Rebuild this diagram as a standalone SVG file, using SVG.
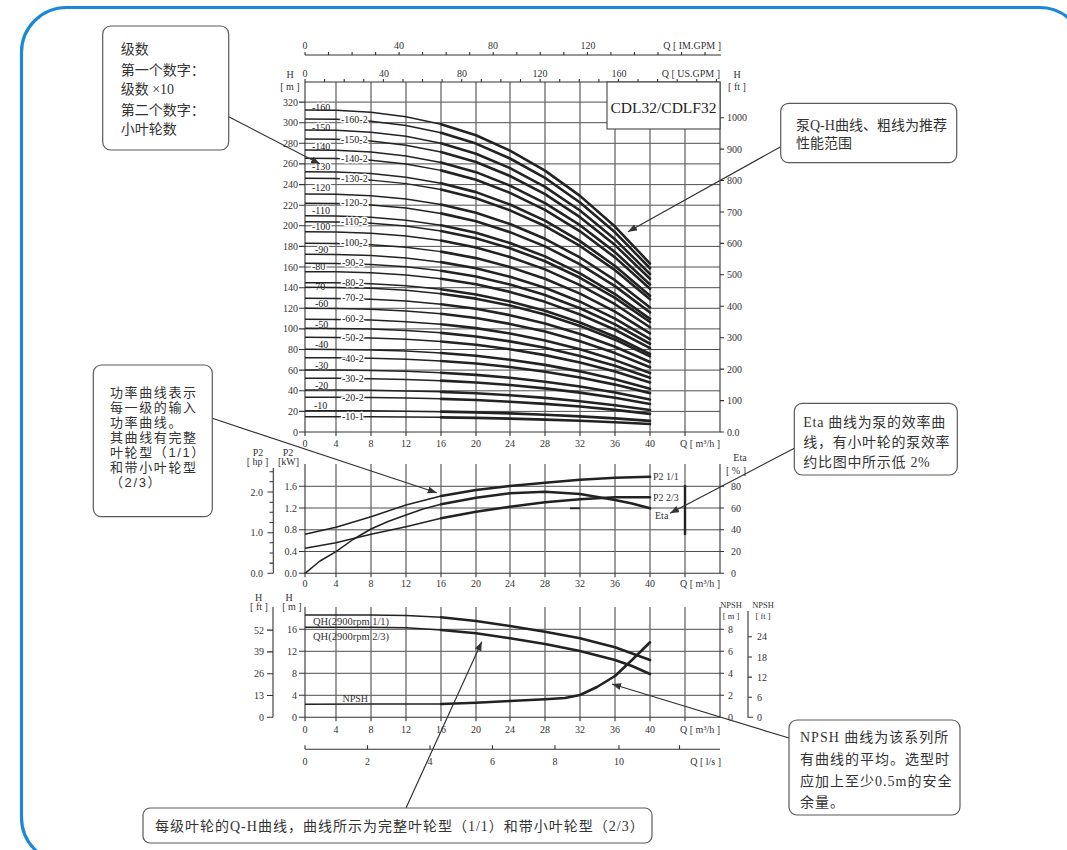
<svg xmlns="http://www.w3.org/2000/svg" xmlns:xlink="http://www.w3.org/1999/xlink" width="1067" height="850" viewBox="0 0 1067 850">
<style>
.t{font-family:"Liberation Serif","Times New Roman",serif;font-size:10px;fill:#333}
.n{font-size:8.5px}
.e{text-anchor:end}
.m{text-anchor:middle}
.gv{stroke:#6a6a6a;stroke-width:1.3;fill:none}
.gh{stroke:#3a3a3a;stroke-width:0.9;fill:none}
.ax{stroke:#333;stroke-width:1.1;fill:none}
.c1{fill:none;stroke:#222;stroke-width:1.5;stroke-linejoin:round}
.c2{fill:none;stroke:#222;stroke-width:2.6;stroke-linejoin:round;stroke-linecap:round}
.st{font-family:"Liberation Serif","Times New Roman",serif;font-size:10px;fill:#222;stroke:#fff;stroke-width:3;paint-order:stroke;stroke-linejoin:round}
.box{fill:#fff;stroke:#5a5a5a;stroke-width:1.2}
.cn{font-family:"Liberation Serif","Noto Sans CJK SC",sans-serif;font-size:14px;fill:#333}
.cs{font-family:"Liberation Sans","Noto Sans CJK SC",sans-serif;font-size:13px;fill:#333;letter-spacing:1.6px}
.conn{fill:none;stroke:#333;stroke-width:1.2;marker-end:url(#ah)}
</style>
<defs>
<marker id="ah" markerUnits="userSpaceOnUse" markerWidth="10" markerHeight="8" refX="9" refY="3.5" orient="auto">
<path d="M0,0 L9,3.5 L0,7 Z" fill="#333"/>
</marker>
<g id="qh">
<path class="c1" vector-effect="non-scaling-stroke" d="M0,-1 L31,-0.999 L66,-0.9928 L101,-0.979 L136,-0.9559"/>
<path class="c2" vector-effect="non-scaling-stroke" d="M136,-0.9559 L171,-0.9215 L205,-0.8738 L240,-0.8118 L275,-0.7333 L310,-0.6379 L345,-0.5231"/>
</g>
</defs>
<rect width="1067" height="850" fill="#fff"/>
<g id="outer-frame">
<rect x="21.5" y="7.5" width="1063" height="855" rx="45" ry="45" fill="none" stroke="#1a88d6" stroke-width="3.2"/>
</g>

<g id="chart-qh">
<path class="gh" d="M305,411.4H720M305,390.8H720M305,370.1H720M305,349.5H720M305,328.9H720M305,308.3H720M305,287.7H720M305,267H720M305,246.4H720M305,225.8H720M305,205.2H720M305,184.6H720M305,163.9H720M305,143.3H720M305,122.7H720M305,102.1H720"/>
<path class="gv" d="M336,82V432M371,82V432M406,82V432M441,82V432M476,82V432M510,82V432M545,82V432M580,82V432M615,82V432M650,82V432M685,82V432"/>
<path class="ax" d="M305,82V432H720V82H305"/>
<path class="ax" d="M305,55H721"/>
<path class="ax" d="M299,432h6M299,411.4h6M299,390.8h6M299,370.1h6M299,349.5h6M299,328.9h6M299,308.3h6M299,287.7h6M299,267h6M299,246.4h6M299,225.8h6M299,205.2h6M299,184.6h6M299,163.9h6M299,143.3h6M299,122.7h6M299,102.1h6"/>
<path class="ax" d="M720,432h4M720,400.6h4M720,369.1h4M720,337.7h4M720,306.3h4M720,274.8h4M720,243.4h4M720,212h4M720,180.5h4M720,149.1h4M720,117.7h4"/>
<path class="ax" d="M305,432v4M336,432v4M371,432v4M406,432v4M441,432v4M476,432v4M510,432v4M545,432v4M580,432v4M615,432v4M650,432v4M685,432v4"/>
<path class="ax" d="M305,82v-3M324.6,82v-3M344.2,82v-3M363.8,82v-3M383.4,82v-3M403,82v-3M422.5,82v-3M442.1,82v-3M461.7,82v-3M481.3,82v-3M500.9,82v-3M520.5,82v-3M540.1,82v-3M559.7,82v-3M579.3,82v-3M598.9,82v-3M618.4,82v-3M638,82v-3M657.6,82v-3M677.2,82v-3M696.8,82v-3M716.4,82v-3"/>
<path class="ax" d="M305,55v-3M328.5,55v-3M352.1,55v-3M375.6,55v-3M399.1,55v-3M422.6,55v-3M446.2,55v-3M469.7,55v-3M493.2,55v-3M516.8,55v-3M540.3,55v-3M563.8,55v-3M587.4,55v-3M610.9,55v-3M634.4,55v-3M658,55v-3M681.5,55v-3M705,55v-3"/>
<g class="t m">
<text x="305" y="49">0</text><text x="399" y="49">40</text><text x="493" y="49">80</text><text x="588" y="49">120</text>
<text x="305" y="77">0</text><text x="384" y="77">40</text><text x="462" y="77">80</text><text x="540" y="77">120</text><text x="619" y="77">160</text>
<text x="305" y="447">0</text><text x="336" y="447">4</text><text x="371" y="447">8</text><text x="406" y="447">12</text><text x="441" y="447">16</text><text x="476" y="447">20</text><text x="510" y="447">24</text><text x="545" y="447">28</text><text x="580" y="447">32</text><text x="615" y="447">36</text><text x="650" y="447">40</text>
<text x="290" y="78">H</text><text x="290" y="90">[ m ]</text>
<text x="737" y="78">H</text><text x="737" y="90">[ ft ]</text>
</g>
<g class="t e">
<text x="721" y="49">Q [ IM.GPM ]</text>
<text x="720" y="77">Q [ US.GPM ]</text>
<text x="720" y="447">Q [ m³/h ]</text>
<text x="298" y="435.5">0</text><text x="298" y="414.9">20</text><text x="298" y="394.3">40</text><text x="298" y="373.6">60</text><text x="298" y="353">80</text><text x="298" y="332.4">100</text><text x="298" y="311.8">120</text><text x="298" y="291.2">140</text><text x="298" y="270.5">160</text><text x="298" y="249.9">180</text><text x="298" y="229.3">200</text><text x="298" y="208.7">220</text><text x="298" y="188.1">240</text><text x="298" y="167.4">260</text><text x="298" y="146.8">280</text><text x="298" y="126.2">300</text><text x="298" y="105.6">320</text>
</g>
<g class="t">
<text x="727" y="435.5">0.0</text><text x="727" y="404.1">100</text><text x="727" y="372.6">200</text><text x="727" y="341.2">300</text><text x="727" y="309.8">400</text><text x="727" y="278.3">500</text><text x="727" y="246.9">600</text><text x="727" y="215.5">700</text><text x="727" y="184">800</text><text x="727" y="152.6">900</text><text x="727" y="121.2">1000</text>
</g>
<g class="st">
<text x="312" y="110.7">-160</text><text x="312" y="131.3">-150</text><text x="312" y="149.7">-140</text><text x="312" y="169.7">-130</text><text x="312" y="191.3">-120</text><text x="312" y="214">-110</text><text x="312" y="230.3">-100</text><text x="315" y="253.3">-90</text><text x="312" y="270.3">-80</text><text x="312" y="290.3">-70</text><text x="315" y="307">-60</text><text x="315" y="328">-50</text><text x="315" y="348">-40</text><text x="315" y="369">-30</text><text x="315" y="389">-20</text><text x="314" y="409">-10</text>
</g>
<g transform="translate(305,432)">
<use xlink:href="#qh" transform="scale(1,21.3)"/>
<use xlink:href="#qh" transform="scale(1,15.3)"/>
<use xlink:href="#qh" transform="scale(1,42)"/>
<use xlink:href="#qh" transform="scale(1,34.7)"/>
<use xlink:href="#qh" transform="scale(1,62)"/>
<use xlink:href="#qh" transform="scale(1,53.7)"/>
<use xlink:href="#qh" transform="scale(1,82.7)"/>
<use xlink:href="#qh" transform="scale(1,74.3)"/>
<use xlink:href="#qh" transform="scale(1,103.7)"/>
<use xlink:href="#qh" transform="scale(1,94.7)"/>
<use xlink:href="#qh" transform="scale(1,123.7)"/>
<use xlink:href="#qh" transform="scale(1,112.7)"/>
<use xlink:href="#qh" transform="scale(1,144.7)"/>
<use xlink:href="#qh" transform="scale(1,133.7)"/>
<use xlink:href="#qh" transform="scale(1,160.3)"/>
<use xlink:href="#qh" transform="scale(1,149.3)"/>
<use xlink:href="#qh" transform="scale(1,177.7)"/>
<use xlink:href="#qh" transform="scale(1,168.7)"/>
<use xlink:href="#qh" transform="scale(1,200.3)"/>
<use xlink:href="#qh" transform="scale(1,188.7)"/>
<use xlink:href="#qh" transform="scale(1,216.3)"/>
<use xlink:href="#qh" transform="scale(1,210.3)"/>
<use xlink:href="#qh" transform="scale(1,238)"/>
<use xlink:href="#qh" transform="scale(1,228.7)"/>
<use xlink:href="#qh" transform="scale(1,260.3)"/>
<use xlink:href="#qh" transform="scale(1,253.7)"/>
<use xlink:href="#qh" transform="scale(1,282)"/>
<use xlink:href="#qh" transform="scale(1,273.7)"/>
<use xlink:href="#qh" transform="scale(1,302)"/>
<use xlink:href="#qh" transform="scale(1,293)"/>
<use xlink:href="#qh" transform="scale(1,322)"/>
<use xlink:href="#qh" transform="scale(1,313)"/>
</g>
<g class="st">
<text x="341" y="122.5">-160-2</text><text x="341" y="142.5">-150-2</text><text x="341" y="161.8">-140-2</text><text x="341" y="181.8">-130-2</text><text x="341" y="205.5">-120-2</text><text x="341" y="225.2">-110-2</text><text x="341" y="245.5">-100-2</text><text x="342" y="265.5">-90-2</text><text x="342" y="286.2">-80-2</text><text x="342" y="300.5">-70-2</text><text x="342" y="321.5">-60-2</text><text x="342" y="341">-50-2</text><text x="342" y="361.5">-40-2</text><text x="342" y="381.8">-30-2</text><text x="342" y="400.8">-20-2</text><text x="342" y="420.2">-10-1</text>
</g>
<rect x="607" y="82" width="113" height="47" fill="#fff" stroke="#444" stroke-width="1.1"/>
<text x="663.5" y="113" text-anchor="middle" font-family="Liberation Serif, serif" font-size="15.5" fill="#222">CDL32/CDLF32</text>
</g>

<g id="chart-p2">
<path class="gh" d="M305,551.5H720M305,529.8H720M305,508H720M305,486.3H720"/>
<path class="gv" d="M336,464V573.3M371,464V573.3M406,464V573.3M441,464V573.3M476,464V573.3M510,464V573.3M545,464V573.3M580,464V573.3M615,464V573.3M650,464V573.3M685,464V573.3"/>
<path class="ax" d="M305,464V573.3H720V464"/>
<path class="ax" d="M299,573.3h6M299,551.5h6M299,529.8h6M299,508h6M299,486.3h6M720,573.3h4M720,551.5h4M720,529.8h4M720,508h4M720,486.3h4"/>
<path class="ax" d="M305,573.3v4M336,573.3v4M371,573.3v4M406,573.3v4M441,573.3v4M476,573.3v4M510,573.3v4M545,573.3v4M580,573.3v4M615,573.3v4M650,573.3v4M685,573.3v4"/>
<path class="ax" d="M273.3,468V573.3M267.5,573.3h5.8M269.5,563.1h3.8M269.5,553h3.8M269.5,542.8h3.8M267.5,532.7h5.8M269.5,522.5h3.8M269.5,512.3h3.8M269.5,502.2h3.8M267.5,492h5.8M269.5,481.8h3.8M269.5,471.7h3.8"/>
<path d="M685,485V535" stroke="#222" stroke-width="2.4"/>
<path d="M570,508.3H580" stroke="#222" stroke-width="1.8"/>
<path class="c1" d="M305,534.3L336,527.3L371,516.7L406,505L441,496"/>
<path class="c2" d="M441,496L476,490L510,486L545,482.7L580,479.7L615,477.7L650,476.7"/>
<path class="c1" d="M305,548.3L336,542.7L371,534.3L406,526.7L441,518.3"/>
<path class="c2" d="M441,518.3L476,511.7L510,506.7L545,502.3L580,499.3L615,497.3L650,497.3"/>
<path class="c1" d="M305,573.3L320,561L336,551.7L353,539.5L371,529L388,521.5L406,515L423,509L441,504.3"/>
<path class="c2" d="M441,504.3L476,497.7L510,493.3L545,491.7L580,494L615,500L632,503.5L650,508.3"/>
<g class="t">
<text x="653" y="480">P2  1/1</text><text x="653" y="500.5">P2  2/3</text><text x="655" y="518.5">Eta</text>
<text x="731" y="577">0</text><text x="731" y="555">20</text><text x="731" y="533.3">40</text><text x="731" y="511.5">60</text><text x="731" y="489.8">80</text>
</g>
<g class="t m">
<text x="258" y="456">P2</text><text x="257.5" y="465">[ hp ]</text>
<text x="288" y="456">P2</text><text x="288.5" y="465">[kW]</text>
<text x="740" y="460.5">Eta</text><text x="736" y="473.5">[ % ]</text>
<text x="305" y="587">0</text><text x="336" y="587">4</text><text x="371" y="587">8</text><text x="406" y="587">12</text><text x="441" y="587">16</text><text x="476" y="587">20</text><text x="510" y="587">24</text><text x="545" y="587">28</text><text x="580" y="587">32</text><text x="615" y="587">36</text><text x="650" y="587">40</text>
</g>
<g class="t e">
<text x="263" y="577">0.0</text><text x="263" y="536.2">1.0</text><text x="263" y="495.5">2.0</text>
<text x="297" y="577">0.0</text><text x="297" y="555">0.4</text><text x="297" y="533.3">0.8</text><text x="297" y="511.5">1.2</text><text x="297" y="489.8">1.6</text>
<text x="720" y="587">Q [ m³/h ]</text>
</g>
</g>

<g id="chart-npsh">
<path class="gh" d="M305,695.3H720M305,673.3H720M305,651.3H720M305,629.3H720"/>
<path class="gv" d="M336,607V717.3M371,607V717.3M406,607V717.3M441,607V717.3M476,607V717.3M510,607V717.3M545,607V717.3M580,607V717.3M615,607V717.3M650,607V717.3M685,607V717.3"/>
<path class="ax" d="M305,607V717.3H720V607"/>
<path class="ax" d="M299,717.3h6M299,695.3h6M299,673.3h6M299,651.3h6M299,629.3h6M720,695.3h4M720,673.3h4M720,651.3h4M720,629.3h4"/>
<path class="ax" d="M305,717.3v4M336,717.3v4M371,717.3v4M406,717.3v4M441,717.3v4M476,717.3v4M510,717.3v4M545,717.3v4M580,717.3v4M615,717.3v4M650,717.3v4M685,717.3v4"/>
<path class="ax" d="M273,607V717.3M267,717.3h6M267,695.5h6M267,673.7h6M267,651.9h6M267,630.1h6"/>
<path class="ax" d="M748,611V717.3h5M748,697.2h4M748,677.1h4M748,657h4M748,636.8h4"/>
<path class="ax" d="M305,749.3H720M305,749.3v-4M367.5,749.3v-4M430,749.3v-4M492.5,749.3v-4M555,749.3v-4M619,749.3v-4M679.5,749.3v-4"/>
<path class="c1" d="M305,615L336,615L371,615L406,615.5L441,617.3"/>
<path class="c2" d="M441,617.3L476,621L510,626L545,631.7L580,638.3L615,647.3L650,660"/>
<path class="c1" d="M305,627.3L336,627.3L371,627.3L406,627.7L441,630"/>
<path class="c2" d="M441,630L476,633.3L510,638.3L545,644L580,651L615,660L632,666L650,674"/>
<path class="c1" d="M305,704.2L373,704.1L441,704"/>
<path class="c2" d="M441,704L476,702.7L510,701L545,699.3L565,698L580,695L597,687L615,676L632,660L650,642.3"/>
<g class="t">
<text x="313" y="625" font-size="10.5">QH(2900rpm 1/1)</text>
<text x="313" y="640" font-size="10.5">QH(2900rpm 2/3)</text>
<text x="342.5" y="702">NPSH</text>
<text x="728" y="720.8">0</text><text x="728" y="698.8">2</text><text x="728" y="676.8">4</text><text x="728" y="654.8">6</text><text x="728" y="632.8">8</text>
<text x="757" y="720.8">0</text><text x="757" y="700.7">6</text><text x="757" y="680.6">12</text><text x="757" y="660.5">18</text><text x="757" y="640.3">24</text>
</g>
<g class="t m">
<text x="258.6" y="600.5">H</text><text x="259" y="609.5">[ ft ]</text>
<text x="289" y="600.5">H</text><text x="292" y="609.5">[ m ]</text>
<text x="731" y="607.5" class="t n m">NPSH</text><text x="731" y="618.5" class="t n m">[ m ]</text>
<text x="763" y="607.5" class="t n m">NPSH</text><text x="763" y="618.5" class="t n m">[ ft ]</text>
<text x="305" y="733">0</text><text x="336" y="733">4</text><text x="371" y="733">8</text><text x="406" y="733">12</text><text x="441" y="733">16</text><text x="476" y="733">20</text><text x="510" y="733">24</text><text x="545" y="733">28</text><text x="580" y="733">32</text><text x="615" y="733">36</text><text x="650" y="733">40</text>
<text x="305" y="765">0</text><text x="367.5" y="765">2</text><text x="430" y="765">4</text><text x="492.5" y="765">6</text><text x="555" y="765">8</text><text x="619" y="765">10</text>
</g>
<g class="t e">
<text x="297" y="720.8">0</text><text x="297" y="698.8">4</text><text x="297" y="676.8">8</text><text x="297" y="654.8">12</text><text x="297" y="632.8">16</text>
<text x="264" y="720.8">0</text><text x="264" y="699">13</text><text x="264" y="677.2">26</text><text x="264" y="655.4">39</text><text x="264" y="633.6">52</text>
<text x="720" y="733">Q [ m³/h ]</text>
<text x="721" y="765">Q [ l/s ]</text>
</g>
</g>

<g id="connectors">
<path class="conn" d="M228.7,116.7L320,164"/>
<path class="conn" d="M780.7,146.7L628,231.7"/>
<path class="conn" d="M212.3,418.3L436.7,492.7"/>
<path class="conn" d="M794.3,448.3L670,513.3"/>
<path class="conn" d="M789,738L612,684"/>
<path class="conn" d="M406,808L481.8,641.7"/>
</g>

<g id="note-stages">
<rect class="box" x="102.7" y="26" width="126" height="124" rx="8"/>
<g class="cn" font-size="13.5">
<text x="120.7" y="54.3">级数</text>
<text x="120.7" y="75">第一个数字：</text>
<text x="120.7" y="94.3">级数 ×10</text>
<text x="120.7" y="115">第二个数字：</text>
<text x="120.7" y="134.3">小叶轮数</text>
</g>
</g>
<g id="note-qh">
<rect class="box" x="780.7" y="103.3" width="176" height="59.4" rx="8"/>
<text class="cn" x="796" y="130">泵Q-H曲线、粗线为推荐</text>
<text class="cn" x="796" y="148">性能范围</text>
</g>
<g id="note-power">
<rect class="box" x="93.3" y="365" width="119" height="151.7" rx="8"/>
<g class="cs">
<text x="110" y="397">功率曲线表示</text>
<text x="110" y="412">每一级的输入</text>
<text x="110" y="427">功率曲线。</text>
<text x="110" y="442">其曲线有完整</text>
<text x="110" y="457">叶轮型（1/1）</text>
<text x="110" y="472">和带小叶轮型</text>
<text x="110" y="486.5">（2/3）</text>
</g>
</g>
<g id="note-eta">
<rect class="box" x="794.3" y="403.3" width="163" height="71.7" rx="8"/>
<g class="cn" letter-spacing="0.7">
<text x="803.3" y="426.7">Eta 曲线为泵的效率曲</text>
<text x="803.3" y="446.7">线，有小叶轮的泵效率</text>
<text x="803.3" y="466.7">约比图中所示低 2%</text>
</g>
</g>
<g id="note-npsh">
<rect class="box" x="789" y="720" width="171" height="95" rx="8"/>
<g class="cn" letter-spacing="1">
<text x="800" y="742">NPSH 曲线为该系列所</text>
<text x="800" y="764">有曲线的平均。选型时</text>
<text x="800" y="786">应加上至少0.5m的安全</text>
<text x="800" y="807">余量。</text>
</g>
</g>
<g id="note-impeller">
<rect class="box" x="143" y="808" width="509" height="35" rx="7"/>
<text class="cn" x="155" y="831" letter-spacing="1">每级叶轮的Q-H曲线，曲线所示为完整叶轮型（1/1）和带小叶轮型（2/3）</text>
</g>
</svg>
